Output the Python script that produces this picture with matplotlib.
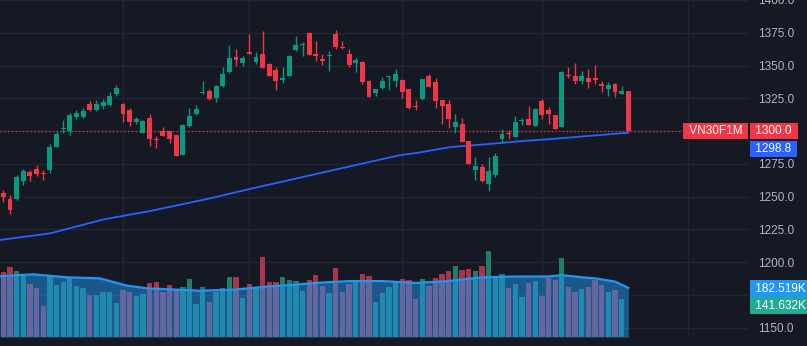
import matplotlib.pyplot as plt
import numpy as np

plt.rcParams['font.family'] = ['Liberation Sans', 'DejaVu Sans']

# daily candles
opens = [1252.8, 1248.5, 1248.2, 1262.1, 1268.9, 1271.2, 1268.2, 1270.5, 1288.1, 1301.3,
         1300.0, 1311.1, 1310.6, 1320.5, 1315.9, 1319.4, 1319.7, 1328.0, 1320.7, 1315.9,
         1307.1, 1298.7, 1309.8, 1294.2, 1300.0, 1300.0, 1297.0, 1281.8, 1303.8, 1312.9,
         1328.8, 1330.3, 1325.3, 1334.3, 1345.0, 1356.8, 1351.8, 1360.6, 1352.5, 1359.1,
         1351.5, 1346.7, 1339.1, 1342.4, 1362.1, 1365.7, 1374.7, 1359.1, 1355.3, 1357.6,
         1374.0, 1363.9, 1359.1, 1351.8, 1352.5, 1337.9, 1329.3, 1332.6, 1341.0, 1337.9,
         1339.1, 1332.3, 1318.9, 1324.2, 1341.7, 1337.1, 1323.7, 1320.5, 1303.3, 1305.3,
         1292.4, 1270.5, 1272.7, 1259.3, 1266.7, 1293.9, 1298.7, 1295.7, 1307.8, 1309.6,
         1303.8, 1322.7, 1315.9, 1312.1, 1303.3, 1342.7, 1341.7, 1338.6, 1340.4, 1340.2,
         1335.6, 1331.8, 1336.1, 1328.3, 1330.3]
highs = [1255.3, 1251.5, 1266.7, 1271.0, 1270.5, 1274.2, 1270.0, 1290.2, 1300.3, 1308.3,
         1313.9, 1316.4, 1317.9, 1322.7, 1323.5, 1324.2, 1329.8, 1335.4, 1321.7, 1317.9,
         1311.1, 1308.8, 1313.4, 1296.2, 1303.3, 1300.3, 1297.2, 1305.3, 1317.9, 1319.7,
         1338.1, 1331.8, 1335.4, 1349.2, 1365.9, 1362.6, 1357.0, 1374.0, 1360.6, 1376.5,
         1352.0, 1348.7, 1348.7, 1358.1, 1372.7, 1367.7, 1375.8, 1368.9, 1358.8, 1361.4,
         1377.3, 1368.9, 1362.6, 1355.6, 1353.8, 1339.1, 1331.8, 1341.2, 1342.4, 1347.5,
         1339.9, 1332.3, 1323.5, 1339.9, 1343.2, 1340.4, 1324.0, 1323.5, 1312.9, 1310.1,
         1292.7, 1280.6, 1274.7, 1280.6, 1283.6, 1301.3, 1300.8, 1311.4, 1310.1, 1318.9,
         1317.9, 1324.2, 1318.4, 1312.6, 1345.5, 1348.7, 1351.8, 1345.5, 1347.0, 1350.8,
         1338.6, 1337.4, 1336.6, 1334.6, 1330.3]
lows = [1245.7, 1237.1, 1247.7, 1259.1, 1262.1, 1265.4, 1262.9, 1268.4, 1287.6, 1298.2,
        1297.0, 1309.6, 1310.1, 1315.5, 1315.4, 1317.2, 1319.4, 1327.0, 1307.1, 1303.8,
        1305.3, 1298.2, 1288.6, 1286.9, 1296.2, 1291.2, 1281.0, 1281.6, 1303.3, 1312.1,
        1328.0, 1324.0, 1322.2, 1333.6, 1344.4, 1350.0, 1349.5, 1358.6, 1351.3, 1348.0,
        1341.7, 1331.1, 1336.6, 1341.7, 1361.4, 1357.6, 1357.8, 1353.8, 1350.3, 1346.2,
        1362.9, 1362.4, 1349.2, 1345.0, 1335.6, 1326.0, 1326.5, 1331.8, 1331.1, 1333.6,
        1325.3, 1316.9, 1316.4, 1323.5, 1333.6, 1317.9, 1305.3, 1302.5, 1298.2, 1291.9,
        1275.0, 1262.4, 1261.1, 1254.0, 1264.9, 1291.2, 1294.2, 1295.2, 1304.3, 1304.5,
        1303.8, 1309.1, 1305.3, 1302.0, 1302.8, 1340.2, 1335.6, 1336.1, 1332.6, 1335.6,
        1329.5, 1326.8, 1325.8, 1328.0, 1300.0]
closes = [1249.5, 1239.6, 1264.9, 1269.7, 1265.9, 1267.4, 1267.4, 1288.1, 1297.7, 1301.8,
          1312.1, 1313.6, 1315.2, 1315.9, 1321.0, 1322.2, 1326.5, 1332.6, 1312.9, 1307.1,
          1309.3, 1307.6, 1293.7, 1293.2, 1296.5, 1293.7, 1281.3, 1305.0, 1311.4, 1316.7,
          1329.8, 1324.5, 1334.6, 1343.2, 1356.1, 1354.5, 1356.1, 1358.6, 1356.8, 1348.0,
          1341.9, 1338.6, 1340.4, 1357.6, 1365.7, 1366.2, 1357.8, 1357.1, 1353.3, 1358.3,
          1364.4, 1363.1, 1350.8, 1354.3, 1337.1, 1326.0, 1331.8, 1338.6, 1341.4, 1343.2,
          1329.8, 1317.7, 1318.4, 1339.9, 1333.6, 1322.7, 1318.9, 1309.3, 1306.8, 1291.9,
          1275.0, 1273.5, 1261.6, 1269.7, 1281.0, 1297.7, 1298.0, 1306.6, 1308.3, 1304.5,
          1317.2, 1312.1, 1312.9, 1302.0, 1344.9, 1341.7, 1338.6, 1342.4, 1337.1, 1338.9,
          1334.3, 1334.8, 1329.8, 1330.6, 1300.0]

# volume in thousands (last bar has none shown)
volumes = [243, 260, 245, 230, 197, 181, 116, 225, 193, 203,
           222, 191, 183, 156, 156, 168, 168, 126, 176, 168,
           154, 159, 201, 204, 166, 193, 176, 186, 216, 123,
           186, 129, 166, 182, 223, 223, 144, 198, 186, 298,
           206, 206, 223, 212, 208, 172, 212, 230, 190, 163,
           258, 168, 197, 206, 234, 227, 131, 163, 186, 201,
           216, 212, 141, 216, 191, 220, 235, 245, 265, 249,
           253, 245, 265, 320, 218, 235, 181, 198, 147, 201,
           208, 151, 218, 211, 294, 185, 168, 178, 185, 213,
           193, 168, 176, 141.632]

# price moving average, read at a few candles
sma_idx = [-0.5, 7, 15.1, 22, 30.7, 37, 44.6, 52, 59.7, 62.1, 67.2, 74.7, 78, 82.2, 89.7, 94]
sma_vals = [1217, 1222, 1232.7, 1239, 1248.3, 1255.8, 1264.5, 1273, 1281.7, 1283.3,
            1287.8, 1290.9, 1292.4, 1293.9, 1297, 1298.8]

# volume moving average (K)
vma_idx = [-0.5, 4.5, 9.5, 14.5, 18.6, 21.6, 29.6, 34.6, 40, 42, 47, 52, 57, 62, 67, 72,
           77, 82, 84, 87, 89, 92, 94]
vma_vals = [226, 233, 222, 218, 191, 181, 172, 176, 188, 191, 201, 208, 208, 201, 208, 222,
            225, 225, 230, 222, 218, 206, 182.519]

price_ticks = [1150, 1175, 1200, 1225, 1250, 1275, 1300, 1325, 1350, 1375, 1400]
hidden_ticks = [1175, 1300]   # covered by the value tags on the scale
time_grid = [18, 37, 60, 81, 103]

bg = '#151924'
up = '#089981'
down = '#f23645'

fig = plt.figure(figsize=(8.07, 3.46), dpi=100, facecolor=bg)
ax = fig.add_axes([0, 9 / 346, 748 / 807, 337 / 346])
ax.set_facecolor(bg)

o = np.array(opens)
h = np.array(highs)
l = np.array(lows)
c = np.array(closes)
x = np.arange(len(o))
cols = np.where(c >= o, up, down)

ax.vlines(x, l, h, colors=cols, lw=1, zorder=3)
ax.bar(x, np.maximum(np.abs(c - o), 0.8), bottom=np.minimum(o, c), width=0.74,
       color=cols, zorder=3)
ax.plot(sma_idx, sma_vals, color='#2962ff', lw=1.3, zorder=2)
ax.axhline(closes[-1], color=down, ls=(0, (1, 2)), lw=0.9, zorder=2)

# volume pane overlaid at the bottom
vax = ax.twinx()
vax.set_ylim(0, 1253)
vax.axis('off')
vx = np.arange(len(volumes))
vcols = np.where(c[:len(volumes)] >= o[:len(volumes)], '#1f7d68', '#a8364a')
vax.bar(vx, volumes, width=0.8, color=vcols, zorder=1)
vax.fill_between(vma_idx, vma_vals, 0, color='#2196f3', alpha=0.5, lw=0, zorder=2)
vax.plot(vma_idx, vma_vals, color='#2196f3', lw=1.6, zorder=3)

# twinx moves the price ticks to the left, put them back
ax.set_xlim(-0.5, 112)
ax.set_ylim(1143, 1400)
ax.yaxis.tick_right()
ax.set_yticks(price_ticks)
ax.set_yticklabels(['' if p in hidden_ticks else '%.1f' % p for p in price_ticks])
ax.set_xticks(time_grid)
ax.tick_params(axis='y', length=0, pad=7, labelcolor='#b2b5be', labelsize=8.5)
ax.tick_params(axis='x', length=0, labelbottom=False)
ax.grid(color='#232632', lw=1)
ax.set_axisbelow(True)
for s in ax.spines.values():
    s.set_visible(False)


def tag(axis, y, text, color, dx, dy, ha='left'):
    axis.annotate(text, xy=(1, y), xycoords=axis.get_yaxis_transform(),
                  xytext=(dx, dy), textcoords='offset points', ha=ha, va='center',
                  fontsize=8.5, color='white', annotation_clip=False, zorder=10,
                  bbox=dict(boxstyle='square,pad=0.2', fc=color, ec='none'))


tag(ax, closes[-1], ' VN30F1M ', down, -1.7, 0, ha='right')
tag(ax, closes[-1], ' 1300.0 ', down, 3.2, 0)
tag(ax, sma_vals[-1], ' 1298.8 ', '#2962ff', 3.2, -11.8)
tag(vax, vma_vals[-1], ' 182.519K ', '#2196f3', 3.2, -0.5)
tag(vax, volumes[-1], ' 141.632K ', '#22ab94', 3.2, -5)

plt.savefig('out.png', dpi=100, facecolor=bg)
